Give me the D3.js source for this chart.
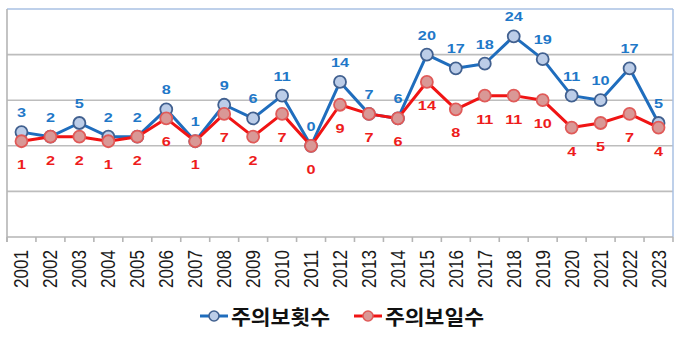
<!DOCTYPE html>
<html>
<head>
<meta charset="utf-8">
<script src="https://cdn.jsdelivr.net/npm/d3@7"></script>
<style>
  html, body { margin: 0; padding: 0; background: #fff; }
  svg { display: block; }
</style>
</head>
<body>
<svg id="chart" width="680" height="340"></svg>
<script>
// Yearly counts: number of advisories issued and number of advisory days
const years = ["2001","2002","2003","2004","2005","2006","2007","2008","2009","2010","2011","2012",
               "2013","2014","2015","2016","2017","2018","2019","2020","2021","2022","2023"];
const advisoryCount = [3,2,5,2,2,8,1,9,6,11,0,14,7,6,20,17,18,24,19,11,10,17,5];
const advisoryDays  = [1,2,2,1,2,6,1,7,2,7,0,9,7,6,14,8,11,11,10,4,5,7,4];
const gridValues = [-10, 0, 10, 20];
const seriesNames = ["주의보횟수", "주의보일수"];

const svg = d3.select("#chart");
const plotLeft = 7, plotRight = 673, plotTop = 9, plotBottom = 237;

const x = d3.scaleBand().domain(years).range([plotLeft, plotRight]).padding(0);
const y = d3.scaleLinear().domain([-20, 30]).range([plotBottom, plotTop]);
const cx = d => x(d) + x.bandwidth() / 2;

// gridlines
svg.append("g").selectAll("line").data(gridValues).join("line")
  .attr("x1", plotLeft).attr("x2", plotRight)
  .attr("y1", d => y(d)).attr("y2", d => y(d))
  .attr("stroke", "#bdbdbd").attr("stroke-width", 1.6);

// frame: light blue top/right, grey left/bottom axis
svg.append("line").attr("x1", plotLeft).attr("x2", plotRight).attr("y1", y(30)).attr("y2", y(30))
  .attr("stroke", "#a9c1e3").attr("stroke-width", 1.5);
svg.append("line").attr("x1", plotRight).attr("x2", plotRight).attr("y1", y(30)).attr("y2", y(-20))
  .attr("stroke", "#a9c1e3").attr("stroke-width", 1.5);
svg.append("line").attr("x1", plotLeft).attr("x2", plotLeft).attr("y1", y(30)).attr("y2", y(-20) + 5)
  .attr("stroke", "#b5b5b5").attr("stroke-width", 1.6);
svg.append("line").attr("x1", plotLeft).attr("x2", plotRight).attr("y1", y(-20)).attr("y2", y(-20))
  .attr("stroke", "#b5b5b5").attr("stroke-width", 1.6);

// category boundary ticks
const tickPos = years.map(d => x(d)).concat([x.range()[1]]);
svg.append("g").selectAll("line").data(tickPos).join("line")
  .attr("x1", d => d).attr("x2", d => d)
  .attr("y1", y(-20)).attr("y2", y(-20) + 5)
  .attr("stroke", "#b5b5b5").attr("stroke-width", 1.6);

// rotated year labels
svg.append("g").selectAll("text").data(years).join("text")
  .attr("transform", d => `translate(${cx(d)},250) rotate(-90)`)
  .attr("text-anchor", "end")
  .attr("dominant-baseline", "central")
  .attr("font-family", "Liberation Sans, Arial, sans-serif")
  .attr("font-size", 20)
  .attr("textLength", 38)
  .attr("lengthAdjust", "spacingAndGlyphs")
  .attr("fill", "#1a1a1a")
  .text(d => d);

// count series first so the day series sits on top where they overlap
const series = [
  { values: advisoryCount, line: "#1f6dbd", fill: "#bccde8", stroke: "#41608f", label: "#1f78c8", above: true },
  { values: advisoryDays,  line: "#f01414", fill: "#d99896", stroke: "#e05a58", label: "#ee1c1c", above: false }
];

const lineGen = d3.line().x((d, i) => cx(years[i])).y(d => y(d));

series.forEach(s => {
  svg.append("path").datum(s.values)
    .attr("d", lineGen)
    .attr("fill", "none").attr("stroke", s.line).attr("stroke-width", 3)
    .attr("stroke-linejoin", "round");
  svg.append("g").selectAll("circle").data(s.values).join("circle")
    .attr("cx", (d, i) => cx(years[i])).attr("cy", d => y(d)).attr("r", 6)
    .attr("fill", s.fill).attr("stroke", s.stroke).attr("stroke-width", 1.8);
});

// value labels
series.forEach(s => {
  svg.append("g").selectAll("text").data(s.values).join("text")
    .attr("transform", (d, i) => `translate(${cx(years[i])},${y(d) + (s.above ? -15 : 28)}) scale(1.25,1)`)
    .attr("text-anchor", "middle")
    .attr("font-family", "Liberation Sans, Arial, sans-serif")
    .attr("font-weight", "bold")
    .attr("font-size", 13)
    .attr("fill", s.label)
    .text(d => d);
});

// legend
const legend = [
  { name: seriesNames[0], x0: 200, line: "#1f6dbd", fill: "#bccde8", stroke: "#41608f" },
  { name: seriesNames[1], x0: 354, line: "#f01414", fill: "#d99896", stroke: "#e05a58" }
];
const lg = svg.append("g").selectAll("g").data(legend).join("g")
  .attr("transform", d => `translate(${d.x0},316)`);
lg.append("line").attr("x1", 0).attr("x2", 28).attr("y1", 0).attr("y2", 0)
  .attr("stroke", d => d.line).attr("stroke-width", 3);
lg.append("circle").attr("cx", 14).attr("cy", 0).attr("r", 5)
  .attr("fill", d => d.fill).attr("stroke", d => d.stroke).attr("stroke-width", 1.6);
lg.append("text").attr("x", 31).attr("y", 0)
  .attr("dominant-baseline", "central")
  .attr("font-family", "Noto Sans CJK KR, sans-serif")
  .attr("font-weight", "bold")
  .attr("font-size", 20)
  .attr("textLength", 99)
  .attr("lengthAdjust", "spacingAndGlyphs")
  .attr("fill", "#111")
  .text(d => d.name);
</script>
</body>
</html>
